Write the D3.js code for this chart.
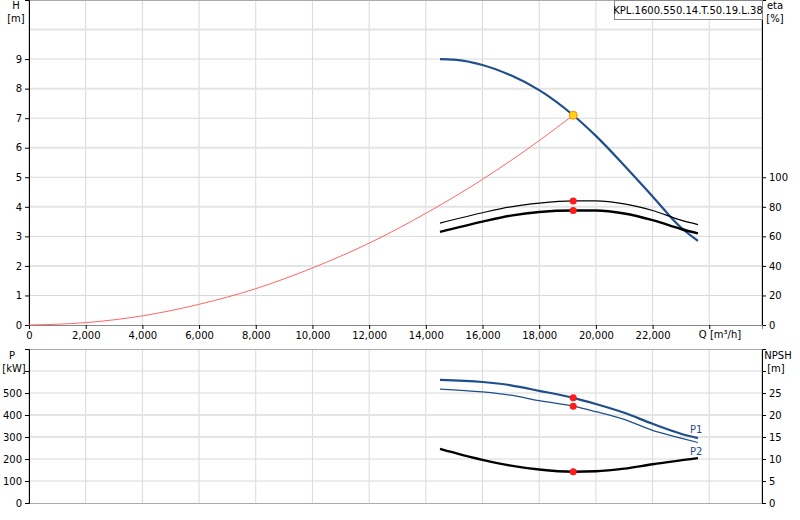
<!DOCTYPE html>
<html><head><meta charset="utf-8">
<script src="https://cdn.jsdelivr.net/npm/d3@7"></script>
<style>body{margin:0;background:#fff}svg{font-family:"DejaVu Sans",sans-serif}</style>
</head><body><div id="c"></div>
<script>
const qTicks = [0, 2000, 4000, 6000, 8000, 10000, 12000, 14000, 16000, 18000, 20000, 22000];
const headCurve = [[14500, 9.0], [15000, 8.98], [16000, 8.8], [17000, 8.45], [18000, 7.95], [19200, 7.1], [20000, 6.4], [21000, 5.4], [22000, 4.35], [23000, 3.3], [23600, 2.85]];
const systemCurve = [[0, 0], [2000, 0.08], [4000, 0.31], [6000, 0.7], [8000, 1.23], [10000, 1.93], [12000, 2.77], [14000, 3.78], [16000, 4.93], [18000, 6.24], [19200, 7.1]];
const etaThick = [[14500, 63], [16000, 70], [17000, 74], [18000, 76.5], [19200, 77.5], [20000, 77.5], [21000, 75.5], [22000, 71], [23000, 65], [23600, 62]];
const etaThin = [[14500, 69], [16000, 76], [17000, 80], [18000, 82.5], [19200, 84], [20000, 84], [21000, 82], [22000, 77.5], [23000, 71], [23600, 68]];
const p1Curve = [[14500, 560], [16000, 550], [17000, 535], [18000, 510], [19200, 478], [20000, 450], [21000, 410], [22000, 360], [23000, 315], [23600, 295]];
const p2Curve = [[14500, 518], [16000, 505], [17000, 490], [18000, 465], [19200, 440], [20000, 415], [21000, 380], [22000, 330], [23000, 295], [23600, 275]];
const npshCurve = [[14500, 12.3], [16000, 9.8], [17000, 8.5], [18000, 7.6], [19200, 7.1], [20000, 7.2], [21000, 7.8], [22000, 8.8], [23600, 10.2]];
const dutyQ = 19200, dutyH = 7.1, dutyEta = [84, 77.5], dutyP = [478, 440], dutyNpsh = 7.1;

const svg = d3.select("#c").append("svg").attr("width", 800).attr("height", 520);
const L = 29, R = 762;
const x = d3.scaleLinear().domain([0, 25860]).range([L, R]);
const yH = d3.scaleLinear().domain([0, 11]).range([325, 0]);
const yEta = d3.scaleLinear().domain([0, 220]).range([325, 0]);
const yP = d3.scaleLinear().domain([0, 700]).range([503, 349]);
const yN = d3.scaleLinear().domain([0, 35]).range([503, 349]);
const grid = "#d9d9d9";

function vgrid(y0, y1) {
  svg.append("g").selectAll("line").data(qTicks.concat([24000]).slice(1)).enter().append("line")
    .attr("x1", d => x(d)).attr("x2", d => x(d)).attr("y1", y0).attr("y2", y1)
    .attr("stroke", grid);
}
vgrid(0, 325); vgrid(349, 503);
svg.append("g").selectAll("line").data(d3.range(1, 11)).enter().append("line")
  .attr("x1", L).attr("x2", R).attr("y1", d => yH(d)).attr("y2", d => yH(d))
  .attr("stroke", d => d % 2 === 0 ? "#e4e4e4" : grid).attr("stroke-width", d => d % 2 === 0 ? 2 : 1);
svg.append("g").selectAll("line").data([100, 200, 300, 400, 500, 600]).enter().append("line")
  .attr("x1", L).attr("x2", R).attr("y1", d => yP(d)).attr("y2", d => yP(d))
  .attr("stroke", d => d === 300 || d === 400 ? "#e4e4e4" : grid).attr("stroke-width", d => d === 300 || d === 400 ? 2 : 1);

// frames
svg.append("rect").attr("x", L).attr("y", 0.5).attr("width", R - L).attr("height", 325).attr("fill", "none").attr("stroke", "#aaa");
svg.append("rect").attr("x", L).attr("y", 349.5).attr("width", R - L).attr("height", 154).attr("fill", "none").attr("stroke", "#aaa");

const fmt = d3.format(",");
function ax(g, t) { g.attr("font-size", 10).attr("font-family", "DejaVu Sans, sans-serif"); g.select(".domain").attr("stroke", t); }
svg.append("g").attr("transform", `translate(${L},0)`).call(d3.axisLeft(yH).tickValues(d3.range(0, 10)).tickSize(4)).call(g => ax(g, "#000"));
svg.append("g").attr("transform", `translate(${R},0)`).call(d3.axisRight(yEta).tickValues(d3.range(0, 101, 20)).tickSize(4)).call(g => ax(g, "#000"));
svg.append("g").attr("transform", "translate(0,325)").call(d3.axisBottom(x).tickValues(qTicks.concat([24000])).tickFormat(d => d === 24000 ? "" : fmt(d)).tickSize(4)).call(g => ax(g, "#888"));
svg.append("g").attr("transform", `translate(${L},0)`).call(d3.axisLeft(yP).tickValues(d3.range(0, 601, 100)).tickFormat(d => d === 600 ? "" : d).tickSize(4)).call(g => ax(g, "#000"));
svg.append("g").attr("transform", `translate(${R},0)`).call(d3.axisRight(yN).tickValues(d3.range(0, 31, 5)).tickFormat(d => d === 30 ? "" : d).tickSize(4)).call(g => ax(g, "#000"));

function txt(xp, yp, s, anchor) { svg.append("text").attr("x", xp).attr("y", yp).attr("font-size", 10).attr("text-anchor", anchor || "middle").text(s); }
txt(16, 9, "H"); txt(16, 22, "[m]");
txt(775, 9, "eta"); txt(775, 22, "[%]");
txt(12, 359, "P"); txt(14, 372, "[kW]");
txt(778, 359, "NPSH"); txt(776, 372, "[m]");
txt(720, 338, "Q [m³/h]");
svg.append("rect").attr("x", 614.5).attr("y", 0.5).attr("width", 148).attr("height", 19).attr("fill", "#fff").attr("stroke", "#888");
txt(688, 14, "KPL.1600.550.14.T.50.19.L.38");

function curve(data, yS, color, w) {
  svg.append("path").datum(data).attr("fill", "none").attr("stroke", color).attr("stroke-width", w)
    .attr("d", d3.line().x(d => x(d[0])).y(d => yS(d[1])).curve(d3.curveMonotoneX));
}
curve(systemCurve, yH, "#ff6666", 1);
curve(headCurve, yH, "#1f4e8c", 2.2);
curve(etaThin, yEta, "#000", 1.2);
curve(etaThick, yEta, "#000", 2.4);
curve(p1Curve, yP, "#1f4e8c", 2.2);
curve(p2Curve, yP, "#1f4e8c", 1.2);
curve(npshCurve, yN, "#000", 2.4);

function dot(yv, yS) { svg.append("circle").attr("cx", x(dutyQ)).attr("cy", yS(yv)).attr("r", 3.5).attr("fill", "#ff1a1a"); }
dutyEta.forEach(v => dot(v, yEta)); dutyP.forEach(v => dot(v, yP)); dot(dutyNpsh, yN);
svg.append("circle").attr("cx", x(dutyQ)).attr("cy", yH(dutyH)).attr("r", 4).attr("fill", "#ffd21a").attr("stroke", "#ff8a00");
svg.append("text").attr("x", x(23600) - 8).attr("y", yP(p1Curve[9][1]) - 5).attr("font-size", 10).attr("fill", "#1f4e8c").text("P1");
svg.append("text").attr("x", x(23600) - 8).attr("y", yP(p2Curve[9][1]) + 12).attr("font-size", 10).attr("fill", "#1f4e8c").text("P2");
</script></body></html>
